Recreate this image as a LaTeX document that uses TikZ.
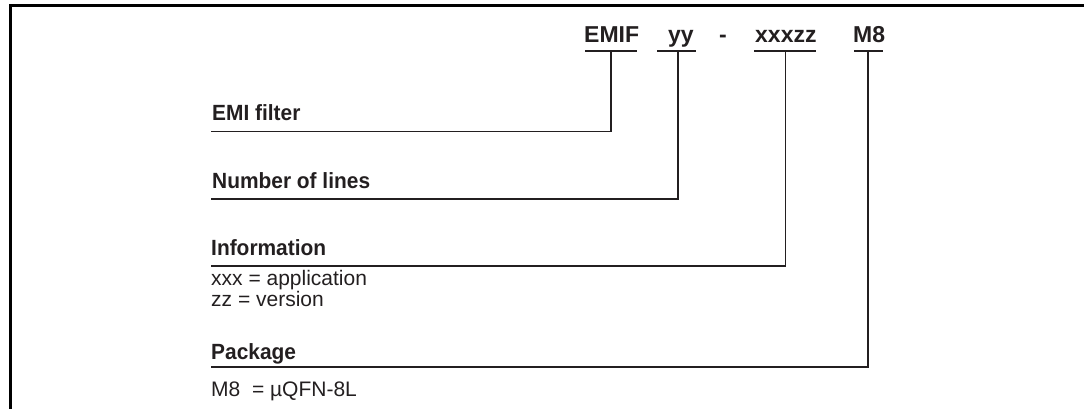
\documentclass[tikz,border=0pt]{standalone}
\usepackage{fontspec}
\setmainfont{Liberation Sans}
\newfontfamily\fieldfont{Liberation Sans}[FakeStretch=0.95]
\definecolor{ink}{HTML}{231F20}
\begin{document}
\begin{tikzpicture}[x=1pt,y=-1pt,
  code/.style={font=\bfseries\fontsize{23}{26}\selectfont, text=ink, inner sep=0pt, anchor=base west},
  field/.style={font=\fieldfont\bfseries\fontsize{22}{26}\selectfont, text=ink, inner sep=0pt, anchor=base west},
  desc/.style={font=\fontsize{21}{24}\selectfont, text=ink, inner sep=0pt, anchor=base west},
  conn/.style={draw=ink, line width=1.7pt, line join=miter},
  frameline/.style={draw=black, line width=2.7pt}]
\useasboundingbox (0,0) rectangle (1084,409);
% frame
\draw[frameline] (1084,5.5) -- (10.5,5.5) -- (10.5,409);
% code letters
\node[code] (emif) at (584,43) {EMIF};
\node[code] (yy) at (668,43) {yy};
\node[code] (dash) at (719,43) {-};
\node[code] (xz) at (755,43) {xxxzz};
\node[code] (m8) at (853,43) {M8};
% underlines
\draw[conn] (585,51) -- (637,51);
\draw[conn] (657,51) -- (696,51);
\draw[conn] (754,51) -- (816,51);
\draw[conn] (854,51) -- (883,51);
% field labels
\node[field] (emi) at (212,121) {EMI filter};
\node[field] (nol) at (212,188) {Number of lines};
\node[field] (info) at (211,255) {Information};
\node[desc] (app) at (211,285) {xxx = application};
\node[desc] (ver) at (211,306) {zz = version};
\node[field] (pkg) at (211,359) {Package};
\node[desc] (pkgd) at (211,396) {M8~~= µQFN-8L};
% connector coordinates
\coordinate (t1) at (611,51);
\coordinate (c1) at (611,131.5);
\coordinate (s1) at (211,131.5);
\coordinate (t2) at (678,51);
\coordinate (c2) at (678,199);
\coordinate (s2) at (211,199);
\coordinate (t3) at (785.5,51);
\coordinate (c3) at (785.5,266);
\coordinate (s3) at (211,266);
\coordinate (t4) at (868,51);
\coordinate (c4) at (868,367);
\coordinate (s4) at (211,367);
\draw[conn] (t1) -- (c1) -- (s1);
\draw[conn] (t2) -- (c2) -- (s2);
\draw[conn] (t3) -- (c3) -- (s3);
\draw[conn] (t4) -- (c4) -- (s4);
\end{tikzpicture}
\end{document}
